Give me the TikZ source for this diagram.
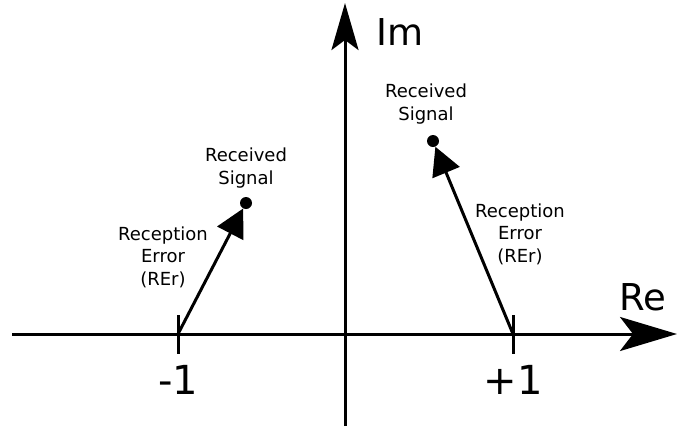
\documentclass[tikz,border=0pt]{standalone}
\usepackage{fontspec}
\setmainfont{DejaVu Sans}
\usetikzlibrary{arrows.meta}
\begin{document}
\begin{tikzpicture}[x=1pt,y=-1pt,
  axis/.style={line width=3pt},
  vec/.style={line width=3pt,-{Triangle[length=28pt,width=29pt]}},
  small/.style={font=\fontsize{18}{22.5}\selectfont,align=center,inner sep=0pt},
  big/.style={font=\fontsize{37}{42}\selectfont,inner sep=0pt},
  dotnode/.style={circle,fill=black,minimum size=12pt,inner sep=0pt},
  tickline/.style={line width=3pt}]
\useasboundingbox (0,0) rectangle (697,429);
% axes
\coordinate (xs) at (12,334);
\coordinate (xe) at (677,334);
\coordinate (ys) at (345,426);
\coordinate (ye) at (345,3);
\draw[axis,-{Stealth[length=57pt,width=34pt,inset=13pt]}] (xs) -- (xe);
\draw[axis,-{Stealth[length=47pt,width=27pt,inset=10pt]}] (ys) -- (ye);
% ticks
\coordinate (mA) at (178,334);
\coordinate (pA) at (513,334);
\coordinate (mT) at (178,315);
\coordinate (mB) at (178,354);
\coordinate (pT) at (513,315);
\coordinate (pB) at (513,354);
\draw[tickline] (mT) -- (mB);
\draw[tickline] (pT) -- (pB);
% labels
\node[big] (im) at (400,32) {Im};
\node[big] (re) at (643,297) {Re};
\node[big,font=\fontsize{40}{46}\selectfont] (m1) at (178,380) {-1};
\node[big,font=\fontsize{40}{46}\selectfont] (p1) at (513,380) {+1};
% received signals
\node[dotnode] (dL) at (246,203) {};
\node[dotnode] (dR) at (433,141) {};
\draw[vec] (mA) -- (dL);
\draw[vec] (pA) -- (dR);
\node[small] (rsL) at (246,168) {Received\\Signal};
\node[small] (rsR) at (426,104) {Received\\Signal};
\node[small] (reL) at (163,257) {Reception\\Error\\(REr)};
\node[small] (reR) at (520,234) {Reception\\Error\\(REr)};
\end{tikzpicture}
\end{document}
